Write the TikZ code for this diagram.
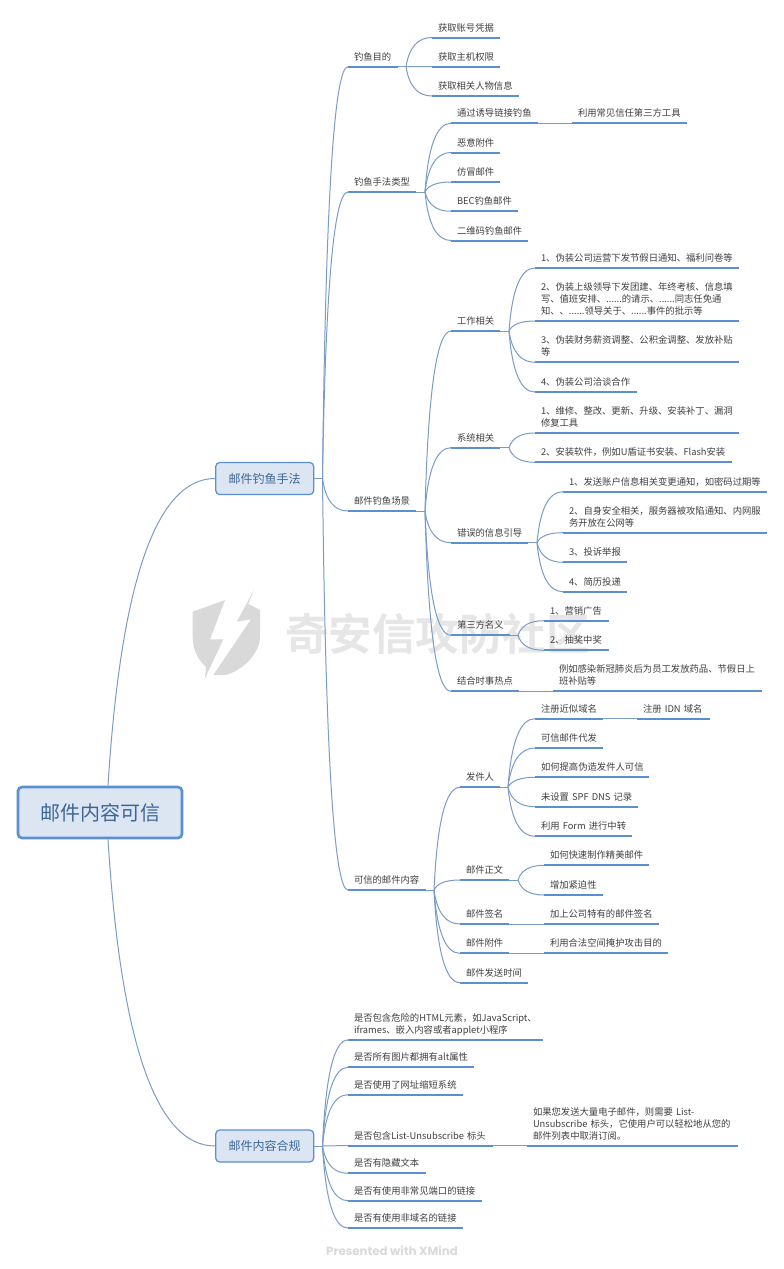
\documentclass[tikz,border=0pt]{standalone}
\usepackage{fontspec}
\setmainfont{Noto Sans CJK SC}
\newfontfamily\wmfont[BoldFont={Noto Sans CJK SC Bold}]{Noto Sans CJK SC}
\newfontfamily\brandfont{Poppins}
\usetikzlibrary{calc}
\definecolor{lineblue}{HTML}{5B8FD0}
\definecolor{connblue}{HTML}{7C9CC8}
\definecolor{boxfill}{HTML}{DCE6F3}
\definecolor{boxtext}{HTML}{3E6598}
\definecolor{leaftext}{HTML}{404040}
\definecolor{wmtext}{HTML}{E6E6E6}
\definecolor{wmshield}{HTML}{D9D9D9}
\definecolor{brandgray}{HTML}{DADADA}
\tikzset{
  x=1pt,y=-1pt,
  leaf/.style={anchor=south west,inner xsep=6pt,inner ysep=2.9pt,outer sep=0pt,align=left,
    text=leaftext,font=\fontsize{9.33}{12}\selectfont,execute at end node=\strut},
  under/.style={draw=lineblue,line width=2pt},
  conn/.style={draw=connblue,line width=1pt},
  curve/.style={to path={let \p1=(\tikztostart),\p2=(\tikztotarget),\p3=({\x1+0.18*(\x2-\x1)},\y2) in
    .. controls ($(\p1)!0.667!(\p3)$) and ($(\p2)!0.667!(\p3)$) .. (\p2) \tikztonodes}},
  rootbox/.style={draw=lineblue,fill=boxfill,line width=2.6pt,rounded corners=4pt,text=boxtext,
    minimum width=164pt,minimum height=51pt,inner sep=0pt,font=\fontsize{20}{24}\selectfont},
  topicbox/.style={draw=lineblue,fill=boxfill,line width=1.2pt,rounded corners=4pt,text=boxtext,
    minimum width=98pt,minimum height=32pt,inner sep=0pt,font=\fontsize{12}{14}\selectfont},
}
\newcommand{\lf}[5]{\node[leaf,text width={#3-#2-12pt}] (#1) at (#2,#4) {#5};
  \draw[under] (#1.south west) -- (#1.south east);}
% parent, branch name, branch x, branch y, children
\newcommand{\brn}[5]{\coordinate (#2) at (#3,#4);
  \draw[conn] (#1) -- (#2);
  \foreach \c in {#5} {\draw[conn] (#2) to[curve] (\c.south west);}}
\begin{document}
\begin{tikzpicture}
\useasboundingbox (0,0) rectangle (784,1269);
\fill[white] (0,0) rectangle (784,1269);
% watermark
\fill[wmshield] (192.7,611.7) -- (225,600) -- (210,639.3) -- (223.3,639.3) -- (205,678.3) -- (206,666.7)
  .. controls (198,660) and (192.7,650) .. (192.7,636.7) -- cycle;
\fill[wmshield] (254,590) -- (248.3,604) -- (260,610) -- (260,636.7)
  .. controls (260,655) and (240,672) .. (225,675) -- (213.3,675) -- (251,619.3) -- (236.7,621.7) -- cycle;
\node[text=wmtext,font=\wmfont\bfseries\fontsize{43.5}{48}\selectfont,anchor=west,inner sep=0pt] (wm) at (285,634) {奇安信攻防社区};
\node[text=brandgray,font=\brandfont\bfseries\fontsize{11.8}{13}\selectfont,inner sep=0pt] (brand) at (392,1250.5) {Presented with XMind};
% root and topics
\node[rootbox] (root) at (100,812.5) {邮件内容可信};
\node[topicbox] (tA) at (264.7,478.5) {邮件钓鱼手法};
\node[topicbox] (tB) at (264.7,1146) {邮件内容合规};
\draw[conn] (root.north -| 108,0) to[curve] (tA.west);
\draw[conn] (root.south -| 108,0) to[curve] (tB.west);
% level 2
\lf{aim}{348}{398}{66.7}{钓鱼目的}
\lf{aimA}{432}{500}{37.5}{获取账号凭据}
\lf{aimB}{432}{500}{66.7}{获取主机权限}
\lf{aimC}{432}{519}{96}{获取相关人物信息}
\lf{kind}{348}{416}{192}{钓鱼手法类型}
\lf{kindA}{451}{538}{123.3}{通过诱导链接钓鱼}
\lf{kindAa}{572}{687}{123.3}{利用常见信任第三方工具}
\lf{kindB}{451}{500}{152.5}{恶意附件}
\lf{kindC}{451}{500}{182}{仿冒邮件}
\lf{kindD}{451}{518}{211.3}{BEC钓鱼邮件}
\lf{kindE}{451}{528}{240.5}{二维码钓鱼邮件}
\lf{scene}{348}{416}{511}{邮件钓鱼场景}
\lf{work}{451}{500}{331}{工作相关}
\lf{workA}{535}{739}{268}{1、伪装公司运营下发节假日通知、福利问卷等}
\lf{workB}{535}{739}{321}{2、伪装上级领导下发团建、年终考核、信息填\\写、值班安排、......的请示、......同志任免通\\知、、......领导关于、......事件的批示等}
\lf{workC}{535}{739}{362.3}{3、伪装财务薪资调整、公积金调整、发放补贴\\等}
\lf{workD}{535}{637}{392}{4、伪装公司洽谈合作}
\lf{sys}{451}{500}{447.7}{系统相关}
\lf{sysA}{535}{739}{433}{1、维修、整改、更新、升级、安装补丁、漏洞\\修复工具}
\lf{sysB}{535}{732}{462.3}{2、安装软件，例如U盾证书安装、Flash安装}
\lf{err}{451}{528}{542.7}{错误的信息引导}
\lf{errA}{563}{767}{491.7}{1、发送账户信息相关变更通知，如密码过期等}
\lf{errB}{563}{767}{532.7}{2、自身安全相关，服务器被攻陷通知、内网服\\务开放在公网等}
\lf{errC}{563}{627}{562.3}{3、投诉举报}
\lf{errD}{563}{627}{591.7}{4、简历投递}
\lf{third}{451}{510}{635.3}{第三方名义}
\lf{thirdA}{544}{609}{620.7}{1、营销广告}
\lf{thirdB}{544}{609}{650.3}{2、抽奖中奖}
\lf{hot}{451}{519}{691.3}{结合时事热点}
\lf{hotA}{553}{762}{691.3}{例如感染新冠肺炎后为员工发放药品、节假日上\\班补贴等}
\lf{trust}{348}{426}{890}{可信的邮件内容}
\lf{send}{460}{500}{787.3}{发件人}
\lf{sendA}{535}{603}{718.7}{注册近似域名}
\lf{sendAa}{637}{710}{718.7}{\mbox{注册 IDN 域名}}
\lf{sendB}{535}{603}{748}{可信邮件代发}
\lf{sendC}{535}{649}{777.3}{如何提高伪造发件人可信}
\lf{sendD}{535}{638}{806.7}{\mbox{未设置 SPF DNS 记录}}
\lf{sendE}{535}{632}{836.3}{\mbox{利用 Form 进行中转}}
\lf{body}{460}{509}{880}{邮件正文}
\lf{bodyA}{544}{649}{865.3}{如何快速制作精美邮件}
\lf{bodyB}{544}{603}{895}{增加紧迫性}
\lf{sign}{460}{509}{924}{邮件签名}
\lf{signA}{544}{659}{924}{加上公司特有的邮件签名}
\lf{att}{460}{509}{953.3}{邮件附件}
\lf{attA}{544}{668}{953.3}{利用合法空间掩护攻击目的}
\lf{time}{460}{528}{982.7}{邮件发送时间}
% compliance
\lf{cA}{348}{543}{1040}{是否包含危险的HTML元素，如JavaScript、\\iframes、嵌入内容或者applet小程序}
\lf{cB}{348}{474}{1067.3}{是否所有图片都拥有alt属性}
\lf{cC}{348}{463}{1094.7}{是否使用了网址缩短系统}
\lf{cD}{348}{493}{1145.7}{\mbox{是否包含List-Unsubscribe 标头}}
\lf{cDa}{527}{738}{1145.7}{如果您发送大量电子邮件，则需要 List-\\Unsubscribe 标头，它使用户可以轻松地从您的\\邮件列表中取消订阅。}
\lf{cE}{348}{426}{1173.3}{是否有隐藏文本}
\lf{cF}{348}{482}{1200.7}{是否有使用非常见端口的链接}
\lf{cG}{348}{463}{1228}{是否有使用非域名的链接}
% connectors
\brn{tA.east}{bA}{322.5}{478.5}{aim,kind,scene,trust}
\brn{tB.east}{bB}{322.5}{1146}{cA,cB,cC,cD,cE,cF,cG}
\brn{aim.south east}{b1}{406}{66.7}{aimA,aimB,aimC}
\brn{kind.south east}{b2}{425}{192}{kindA,kindB,kindC,kindD,kindE}
\brn{scene.south east}{b3}{425}{511}{work,sys,err,third,hot}
\brn{work.south east}{b4}{509}{331}{workA,workB,workC,workD}
\brn{sys.south east}{b5}{509}{447.7}{sysA,sysB}
\brn{err.south east}{b6}{537}{542.7}{errA,errB,errC,errD}
\brn{third.south east}{b7}{518}{635.3}{thirdA,thirdB}
\brn{trust.south east}{b8}{434}{890}{send,body,sign,att,time}
\brn{send.south east}{b9}{508}{787.3}{sendA,sendB,sendC,sendD,sendE}
\brn{body.south east}{b10}{518}{880}{bodyA,bodyB}
\draw[conn] (kindA.south east) -- (kindAa.south west);
\draw[conn] (hot.south east) -- (hotA.south west);
\draw[conn] (sendA.south east) -- (sendAa.south west);
\draw[conn] (sign.south east) -- (signA.south west);
\draw[conn] (att.south east) -- (attA.south west);
\draw[conn] (cD.south east) -- (cDa.south west);
\end{tikzpicture}
\end{document}
